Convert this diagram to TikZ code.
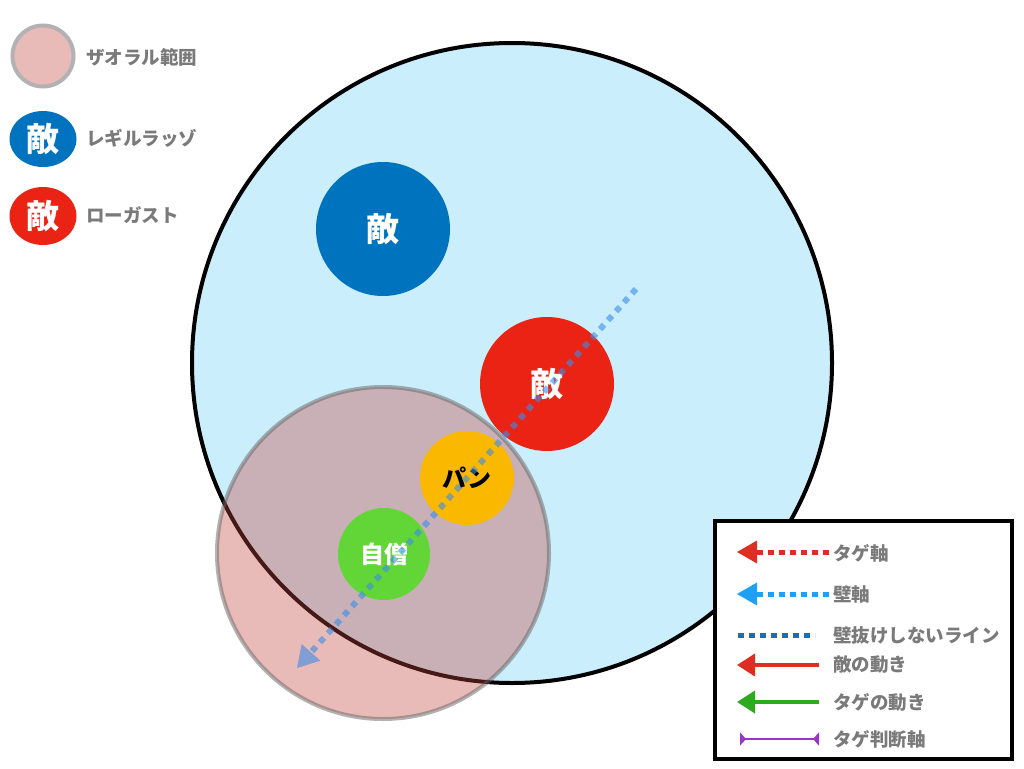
\documentclass[tikz,border=0pt]{standalone}
\usepackage{fontspec}
\setmainfont{Noto Sans CJK JP}
\usetikzlibrary{arrows.meta,shapes.geometric}
\definecolor{arenafill}{RGB}{203,238,252}
\definecolor{zpink}{RGB}{195,69,61}
\definecolor{zpinklight}{RGB}{233,187,184}
\definecolor{zborder}{RGB}{178,178,178}
\definecolor{enemyblue}{RGB}{0,115,190}
\definecolor{enemyred}{RGB}{234,35,20}
\definecolor{panyellow}{RGB}{250,185,0}
\definecolor{priestgreen}{RGB}{98,214,55}
\definecolor{wallblue}{RGB}{60,140,230}
\definecolor{lgred}{RGB}{222,45,35}
\definecolor{lgblue}{RGB}{30,160,245}
\definecolor{lgdark}{RGB}{25,110,180}
\definecolor{lggreen}{RGB}{45,170,30}
\definecolor{lgpurple}{RGB}{150,55,200}
\definecolor{txtgray}{RGB}{122,122,122}
\tikzset{
  disc/.style={circle,inner sep=0pt,draw=none},
  ename/.style={text=white,font=\bfseries\fontsize{33}{33}\selectfont},
  lbl/.style={anchor=west,inner sep=0pt,text=txtgray,font=\bfseries\fontsize{18.5}{18.5}\selectfont},
  dotline/.style={line width=5pt,dash pattern=on 6pt off 5pt},
  solidarrow/.style={line width=4pt,-{Triangle[length=18pt,width=22pt]}}
}
\begin{document}
\begin{tikzpicture}[x=1pt,y=-1pt]
\useasboundingbox[fill=white] (0,0) rectangle (1024,768);

% arena
\node[disc,draw=black,line width=4pt,fill=arenafill,minimum size=640pt] (arena) at (512,363) {};

% zaoral range (transparent)
\node[disc,fill=zpink,fill opacity=0.365,draw=black!60,draw opacity=0.5,line width=4pt,minimum size=332pt] (zaoral) at (383,553) {};

% enemies
\node[disc,fill=enemyblue,minimum size=134pt,ename] (eblue) at (383,229) {敵};
\node[disc,fill=enemyred,minimum size=134pt,ename] (ered) at (547,384) {敵};
\node[disc,fill=panyellow,minimum size=94pt,text=black,font=\bfseries\fontsize{24}{24}\selectfont] (pan) at (467,478) {パン};
\node[disc,fill=priestgreen,minimum size=92pt,text=white,font=\bfseries\fontsize{24}{24}\selectfont] (priest) at (384,554) {自僧};

% wall line
\coordinate (ws) at (636,289);
\coordinate (wt) at (297,668);
\draw[wallblue,draw opacity=0.6,fill opacity=0.6,line width=6pt,dash pattern=on 6pt off 6pt,-{Triangle[length=21pt,width=25pt,line width=0pt]}] (ws) -- (wt);

% top-left legend
\node[disc,fill=zpinklight,draw=zborder,line width=4pt,minimum size=61pt] (lz) at (43,56) {};
\node[lbl] (lzt) at (86,57) {ザオラル範囲};
\node[ellipse,inner sep=0pt,fill=enemyblue,minimum width=67pt,minimum height=56pt,ename] (lb) at (43,139) {敵};
\node[lbl] (lbt) at (86,138) {レギルラッゾ};
\node[ellipse,inner sep=0pt,fill=enemyred,minimum width=67pt,minimum height=58pt,ename] (lr) at (43,216) {敵};
\node[lbl] (lrt) at (86,215) {ローガスト};

% legend box
\node[draw=black,line width=4.5pt,fill=white,minimum width=297pt,minimum height=238pt,inner sep=0pt] (lgbox) at (863.5,640) {};

\coordinate (a1s) at (829,552); \coordinate (a1m) at (757,552); \coordinate (a1e) at (737,552);
\coordinate (a2s) at (829,594); \coordinate (a2m) at (757,594); \coordinate (a2e) at (737,594);
\coordinate (a3s) at (738,635); \coordinate (a3e) at (815,635);
\coordinate (a4s) at (819,665); \coordinate (a4e) at (737,665);
\coordinate (a5s) at (819,702); \coordinate (a5e) at (737,702);
\coordinate (a6s) at (740,739); \coordinate (a6e) at (819,739);

\draw[lgred,dotline] (a1s) -- (a1m);
\fill[lgred] (a1e) -- ++(20,-11.5) -- ++(0,23) -- cycle;
\draw[lgblue,dotline] (a2s) -- (a2m);
\fill[lgblue] (a2e) -- ++(20,-11.5) -- ++(0,23) -- cycle;
\draw[lgdark,dotline] (a3s) -- (a3e);
\draw[lgred,solidarrow] (a4s) -- (a4e);
\draw[lggreen,solidarrow] (a5s) -- (a5e);
\draw[lgpurple,line width=2.5pt,{Triangle[reversed,length=6pt,width=13pt]}-{Triangle[reversed,length=6pt,width=13pt]}] (a6s) -- (a6e);

\node[lbl] (l1) at (833,553) {タゲ軸};
\node[lbl] (l2) at (833,594) {壁軸};
\node[lbl] (l3) at (833,635) {壁抜けしないライン};
\node[lbl] (l4) at (833,665) {敵の動き};
\node[lbl] (l5) at (833,702) {タゲの動き};
\node[lbl] (l6) at (833,739) {タゲ判断軸};
\end{tikzpicture}
\end{document}
